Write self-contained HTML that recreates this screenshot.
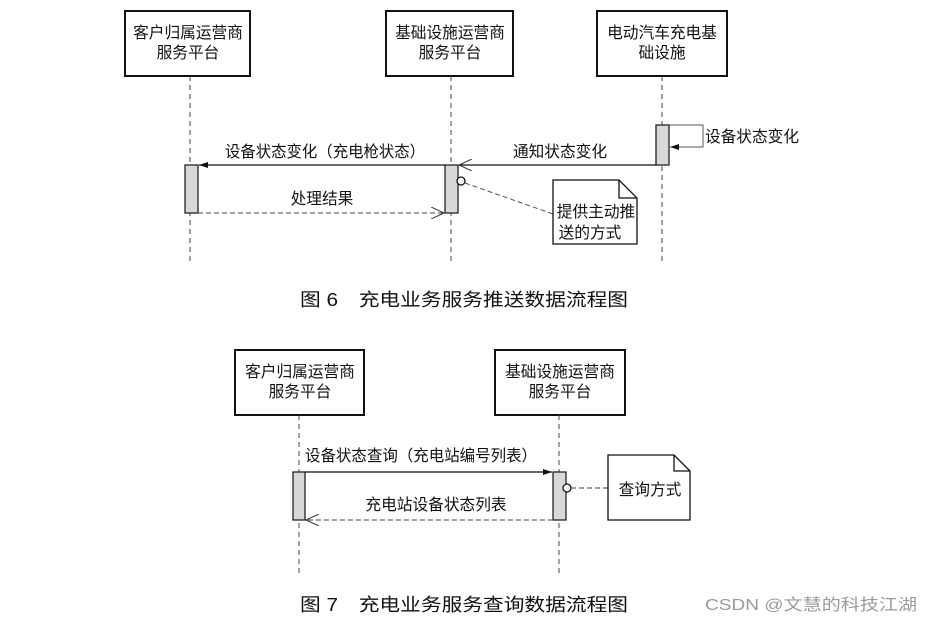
<!DOCTYPE html>
<html><head><meta charset="utf-8"><style>
html,body{margin:0;padding:0;background:#fff;}
svg{display:block;}
text{font-family:"Liberation Sans","Noto Sans CJK SC",sans-serif;fill:#111;}
</style></head><body>
<svg width="931" height="622" viewBox="0 0 931 622" xmlns="http://www.w3.org/2000/svg">
<defs>
<marker id="fa" markerWidth="10" markerHeight="8" refX="9" refY="4" orient="auto" markerUnits="userSpaceOnUse"><path d="M0,1 L9,4 L0,7 z" fill="#111"/></marker>
<marker id="oa" markerWidth="14" markerHeight="12" refX="13" refY="6" orient="auto" markerUnits="userSpaceOnUse"><path d="M0,0 L13,6 L0,12" fill="none" stroke="#333" stroke-width="1"/></marker>
</defs>
<g stroke="#111" stroke-width="2" fill="#fff">
<rect x="125" y="11" width="125" height="65"/>
<rect x="386" y="11" width="127" height="65"/>
<rect x="597" y="11" width="130" height="65"/>
<rect x="235" y="350" width="129" height="65"/>
<rect x="495" y="350" width="130" height="65"/>
</g>
<g font-size="15.7" text-anchor="middle">
<text x="188" y="38">客户归属运营商</text><text x="188" y="58">服务平台</text>
<text x="450" y="38">基础设施运营商</text><text x="450" y="58">服务平台</text>
<text x="662" y="38">电动汽车充电基</text><text x="662" y="58">础设施</text>
<text x="300" y="377">客户归属运营商</text><text x="300" y="397">服务平台</text>
<text x="560" y="377">基础设施运营商</text><text x="560" y="397">服务平台</text>
</g>
<g stroke="#444" stroke-width="1" stroke-dasharray="5,4">
<line x1="190" y1="76" x2="190" y2="262"/>
<line x1="451" y1="76" x2="451" y2="262"/>
<line x1="662" y1="76" x2="662" y2="262"/>
<line x1="299" y1="415" x2="299" y2="575"/>
<line x1="559" y1="415" x2="559" y2="575"/>
</g>
<g stroke="#222" stroke-width="1.3" fill="#d8d8d8">
<rect x="656" y="125" width="13" height="40"/>
<rect x="445" y="165" width="13" height="48"/>
<rect x="185" y="165" width="13" height="48"/>
<rect x="293" y="472" width="12" height="48"/>
<rect x="553" y="472" width="13" height="48"/>
</g>
<polyline points="669,125 703,125 703,147 670,147" fill="none" stroke="#555" stroke-width="1" marker-end="url(#fa)"/>
<line x1="656" y1="165" x2="459" y2="165" stroke="#111" stroke-width="1.3" marker-end="url(#oa)"/>
<line x1="445" y1="165" x2="199" y2="165" stroke="#111" stroke-width="1.3" marker-end="url(#fa)"/>
<line x1="198" y1="213" x2="444" y2="213" stroke="#444" stroke-width="1" stroke-dasharray="5,3" marker-end="url(#oa)"/>
<circle cx="461" cy="181" r="4" fill="#fff" stroke="#111" stroke-width="1.3"/>
<line x1="465" y1="183" x2="553" y2="214" stroke="#555" stroke-width="1" stroke-dasharray="5,3"/>
<path d="M553,180 H619 L637,198 V244 H553 Z M619,180 V198 H637" fill="#fff" stroke="#111" stroke-width="1.3"/>
<line x1="305" y1="472" x2="552" y2="472" stroke="#111" stroke-width="1.3" marker-end="url(#fa)"/>
<line x1="553" y1="520" x2="306" y2="520" stroke="#444" stroke-width="1" stroke-dasharray="5,3" marker-end="url(#oa)"/>
<circle cx="567" cy="488" r="4" fill="#fff" stroke="#111" stroke-width="1.3"/>
<line x1="571" y1="488" x2="608" y2="488" stroke="#666" stroke-width="1.3" stroke-dasharray="5,3"/>
<path d="M608,455 H674 L690,471 V520 H608 Z M674,455 V471 H690" fill="#fff" stroke="#111" stroke-width="1.3"/>
<g font-size="15.7" text-anchor="middle">
<text x="752" y="142">设备状态变化</text>
<text x="560" y="157">通知状态变化</text>
<text x="325" y="157" textLength="200" lengthAdjust="spacingAndGlyphs">设备状态变化（充电枪状态）</text>
<text x="322" y="204">处理结果</text>
<text x="596" y="217">提供主动推</text>
<text x="590" y="238">送的方式</text>
<text x="421" y="461" textLength="232" lengthAdjust="spacingAndGlyphs">设备状态查询（充电站编号列表）</text>
<text x="436" y="510">充电站设备状态列表</text>
<text x="650" y="495">查询方式</text>
</g>
<text x="300" y="306" font-size="18" textLength="328" lengthAdjust="spacingAndGlyphs">图 6　充电业务服务推送数据流程图</text>
<text x="300" y="611" font-size="18" textLength="328" lengthAdjust="spacingAndGlyphs">图 7　充电业务服务查询数据流程图</text>
<text x="705" y="610" font-size="16" style="fill:#9a9a9a" textLength="212" lengthAdjust="spacingAndGlyphs">CSDN @文慧的科技江湖</text>
</svg>
</body></html>
